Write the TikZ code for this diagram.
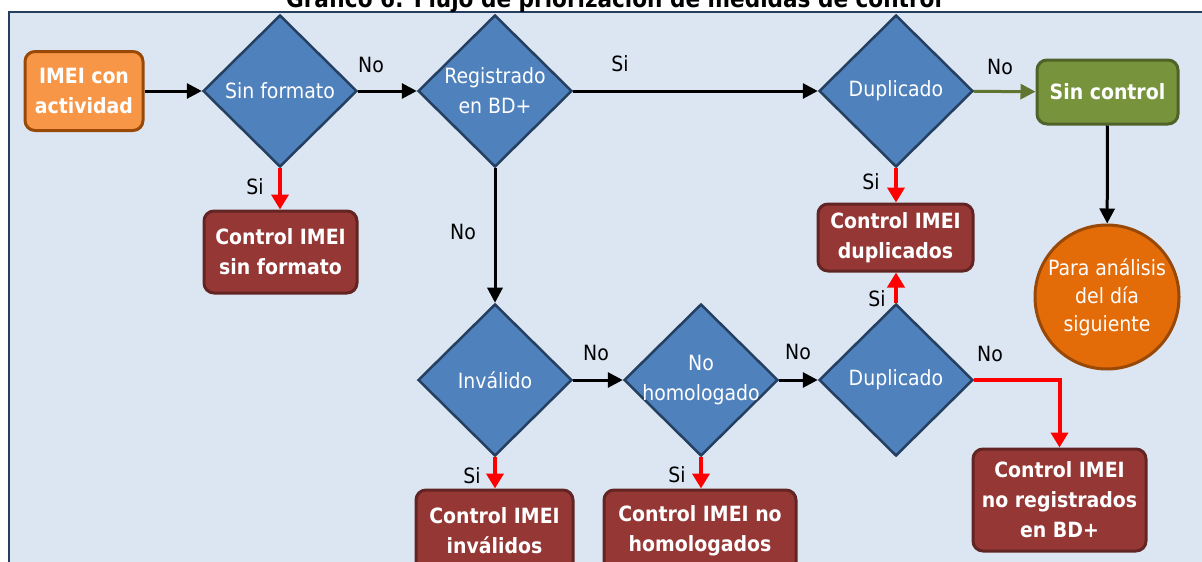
\documentclass[tikz,border=0pt]{standalone}
\usepackage{fontspec}
\setmainfont{DejaVu Sans Condensed}
\usetikzlibrary{shapes.geometric,arrows.meta}
\definecolor{panel}{HTML}{DCE6F2}
\definecolor{frame}{HTML}{243F60}
\definecolor{decfill}{HTML}{4F81BD}
\definecolor{decline}{HTML}{243F60}
\definecolor{ctlfill}{HTML}{953735}
\definecolor{ctlline}{HTML}{632523}
\definecolor{startfill}{HTML}{F79646}
\definecolor{startline}{HTML}{984807}
\definecolor{okfill}{HTML}{77933C}
\definecolor{okline}{HTML}{4F6228}
\definecolor{nextfill}{HTML}{E36C09}
\definecolor{nextline}{HTML}{984807}
\definecolor{okarrow}{HTML}{5F7530}
\tikzset{
  decision/.style={shape=diamond, fill=decfill, draw=decline, line width=2.5pt,
    minimum width=154pt, minimum height=152pt, inner sep=-8pt, text=white,
    align=center, font=\fontsize{21}{30}\selectfont},
  ctlbox/.style={rectangle, rounded corners=10pt, fill=ctlfill, draw=ctlline,
    line width=3pt, inner sep=0pt, text=white, align=center,
    font=\bfseries\fontsize{21}{30}\selectfont},
  startbox/.style={ctlbox, fill=startfill, draw=startline},
  okbox/.style={ctlbox, fill=okfill, draw=okline},
  nextcirc/.style={circle, fill=nextfill, draw=nextline, line width=3pt,
    minimum size=144pt, inner sep=0pt, text=white, align=center,
    font=\fontsize{21}{28}\selectfont},
  flow/.style={line width=3pt, -{Triangle[length=15pt,width=15pt]}},
  yesflow/.style={flow, line width=4pt, red, -{Triangle[length=15pt,width=17pt]}},
  noflow/.style={flow, okarrow},
  lbl/.style={font=\fontsize{21}{24}\selectfont, text=black, inner sep=0pt}
}
\begin{document}
\begin{tikzpicture}[x=1pt,y=-1pt]
\useasboundingbox (0,0) rectangle (1202,562);
% panel and heading
\draw[fill=panel, draw=frame, line width=2.5pt] (9,12) rectangle (1230,600);
\node[anchor=base, font=\bfseries\fontsize{24}{28}\selectfont, inner sep=0pt] (title) at (614,7)
  {Gráfico 6: Flujo de priorización de medidas de control};

% decisions
\node[decision] (fmt) at (280,91) {Sin formato};
\node[decision] (reg) at (495,91) {Registrado\\en BD+};
\node[decision] (dupA) at (896,91) {Duplicado};
\node[decision] (inv) at (495,380) {Inválido};
\node[decision] (hom) at (701,380) {No\\homologado};
\node[decision] (dupB) at (896,380) {Duplicado};

% start, pass and deferred nodes
\node[startbox, minimum width=118pt, minimum height=79pt] (start) at (84,91) {IMEI con\\actividad};
\node[okbox, minimum width=141pt, minimum height=64pt] (pass) at (1107.5,92) {Sin control};
\node[nextcirc] (later) at (1107,297) {Para análisis\\del día\\siguiente};

% control outcomes
\node[ctlbox, minimum width=153pt, minimum height=82pt] (cFmt) at (280.5,252) {Control IMEI\\sin formato};
\node[ctlbox, minimum width=155pt, minimum height=67pt] (cDup) at (895.5,237.5) {Control IMEI\\duplicados};
\node[ctlbox, minimum width=157pt, minimum height=82pt] (cInv) at (494.5,531) {Control IMEI\\inválidos};
\node[ctlbox, minimum width=192pt, minimum height=82pt] (cHom) at (700,531) {Control IMEI no\\homologados};
\node[ctlbox, minimum width=173pt, minimum height=102pt] (cReg) at (1059.5,500) {Control IMEI\\no registrados\\en BD+};

% main flow
\draw[flow] (start) -- (fmt);
\draw[flow] (fmt) -- (reg);
\draw[flow] (reg) -- (dupA);
\draw[noflow] (dupA) -- (pass);
\draw[flow] (pass) -- (later);
\draw[flow] (reg) -- (inv);
\draw[flow] (inv) -- (hom);
\draw[flow] (hom) -- (dupB);

% branches to controls
\draw[yesflow] (fmt.south) -- (fmt.south |- cFmt.north);
\draw[yesflow] (dupA.south) -- (dupA.south |- cDup.north);
\draw[yesflow] (dupB.north) -- (dupB.north |- cDup.south);
\draw[yesflow] (inv.south) -- (inv.south |- cInv.north);
\draw[yesflow] (hom.south) -- (hom.south |- cHom.north);
\draw[yesflow] (dupB.east) -| (cReg.north);

% branch labels
\node[lbl] (l1) at (371,65) {No};
\node[lbl] (l2) at (620,64) {Si};
\node[lbl] (l3) at (1000,67) {No};
\node[lbl] (l4) at (255,187) {Si};
\node[lbl] (l5) at (463,232) {No};
\node[lbl] (l6) at (871,182) {Si};
\node[lbl] (l7) at (877,299) {Si};
\node[lbl] (l8) at (596,353) {No};
\node[lbl] (l9) at (798,352) {No};
\node[lbl] (l10) at (990,354) {No};
\node[lbl] (l11) at (472,476) {Si};
\node[lbl] (l12) at (677,475) {Si};
\end{tikzpicture}
\end{document}
